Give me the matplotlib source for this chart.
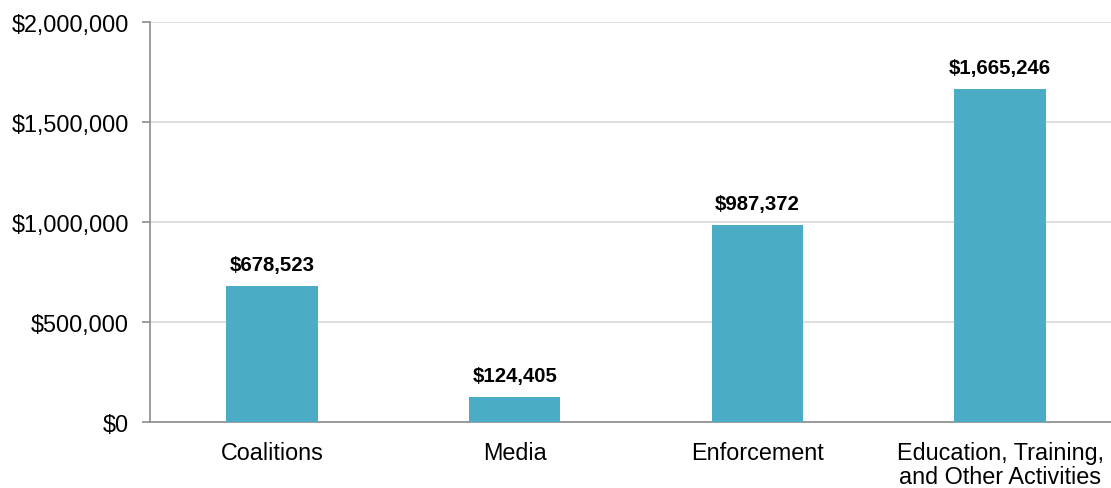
import matplotlib
matplotlib.use("Agg")
import matplotlib.pyplot as plt
from matplotlib.ticker import FuncFormatter

categories = ["Coalitions", "Media", "Enforcement", "Education, Training,\nand Other Activities"]
values = [678523, 124405, 987372, 1665246]
yticks = [0, 500000, 1000000, 1500000, 2000000]

plt.rcParams['font.family'] = ['Liberation Sans', 'DejaVu Sans']

fig = plt.figure(figsize=(11.11, 4.89), dpi=100)
ax = fig.add_axes([150/1111, 1-423/489, 961/1111, 400/489])

x = list(range(len(categories)))
ax.bar(x, values, width=0.376, color="#4BACC6", zorder=3)
for xi, v in zip(x, values):
    ax.annotate(f"${v:,.0f}", (xi, v), xytext=(0, 8.5), textcoords="offset points",
                ha="center", va="bottom", fontsize=14.7, fontweight="bold", color="#000000")

ax.set_xlim(-0.503, 3.457)
ax.set_ylim(0, 2000000)
ax.set_yticks(yticks)
ax.yaxis.set_major_formatter(FuncFormatter(lambda v, p: f"${v:,.0f}"))
ax.set_xticks(x)
ax.set_xticklabels(categories, linespacing=1.05)
ax.tick_params(axis="x", length=0, pad=13.5, labelsize=16.8)
ax.tick_params(axis="y", length=6, width=1.2, color="#8c8c8c", pad=9, labelsize=16.8)
ax.grid(axis="y", color="#d9d9d9", linewidth=1.2, zorder=0)
for s in ["top", "right"]:
    ax.spines[s].set_visible(False)
ax.spines["left"].set_color("#8c8c8c")
ax.spines["left"].set_linewidth(1.2)
ax.spines["bottom"].set_color("#8c8c8c")
ax.spines["bottom"].set_linewidth(1.2)

fig.savefig("out.png", dpi=100)
